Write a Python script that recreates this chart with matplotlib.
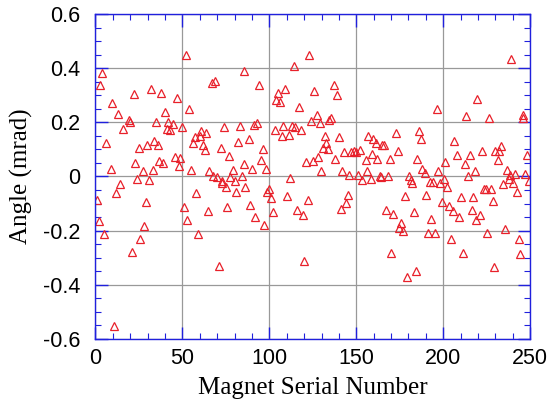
import matplotlib
matplotlib.use("Agg")
import matplotlib.pyplot as plt
from matplotlib.ticker import MultipleLocator, FuncFormatter

matplotlib.rcParams['axes.unicode_minus'] = False

# 磁铁编号
serial = [1.2, 1.9, 2.9, 3.9, 4.8, 6.0, 8.8, 9.8, 10.9, 11.9, 12.9, 14.0, 16.1, 19.2, 19.8,
          20.9, 22.1, 23.0, 24.0, 24.9, 25.9, 27.2, 28.0, 29.1, 29.9, 30.9, 31.8, 33.0, 33.9,
          34.9, 36.0, 36.6, 37.8, 38.9, 39.9, 41.0, 41.8, 43.0, 44.5, 45.8, 47.0, 47.9, 48.9,
          50.0, 51.0, 52.0, 52.9, 53.9, 55.0, 56.1, 57.3, 57.9, 58.9, 60.0, 60.7, 61.9, 63.0,
          63.8, 65.0, 65.5, 67.2, 67.8, 69.0, 69.8, 70.9, 72.0, 72.6, 73.0, 74.0, 74.9, 75.9,
          76.8, 77.6, 79.0, 80.2, 80.9, 82.0, 83.0, 84.5, 85.4, 85.6, 86.2, 88.2, 89.1, 90.1,
          91.2, 92.0, 93.1, 93.9, 95.1, 96.2, 97.0, 97.9, 98.9, 99.6, 101.1, 102.1, 103.1,
          104.0, 105.0, 106.1, 107.1, 108.0, 109.0, 110.0, 111.3, 112.1, 113.0, 114.0, 115.0,
          116.1, 117.1, 118.0, 119.2, 119.9, 121.1, 122.1, 122.8, 124.1, 125.0, 125.9, 127.2,
          128.2, 129.1, 129.7, 130.9, 132.0, 132.8, 133.9, 134.3, 135.5, 137.0, 137.8, 138.9,
          140.1, 141.2, 141.9, 142.8, 143.9, 145.0, 145.8, 147.0, 148.5, 149.7, 151.1, 152.0,
          153.1, 155.4, 156.0, 156.9, 158.3, 158.9, 159.8, 161.1, 161.9, 163.4, 164.2, 164.6,
          166.1, 166.9, 168.4, 169.2, 169.9, 171.1, 173.0, 174.1, 174.7, 175.9, 177.0, 178.2,
          179.3, 180.1, 181.3, 182.0, 183.2, 184.3, 185.0, 186.2, 187.0, 187.8, 189.3, 190.1,
          191.2, 192.4, 192.8, 194.3, 195.1, 196.2, 197.0, 198.1, 199.3, 200.6, 201.1, 202.3,
          203.1, 204.3, 205.4, 206.1, 208.0, 208.9, 210.3, 211.1, 212.3, 213.0, 214.2, 215.3,
          216.5, 217.1, 218.0, 218.8, 219.5, 221.1, 222.1, 223.4, 224.5, 225.3, 226.3, 227.2,
          228.4, 229.1, 229.9, 231.4, 232.2, 233.0, 234.1, 235.3, 236.8, 237.9, 238.3, 239.1,
          240.0, 241.4, 242.2, 243.3, 244.1, 245.6, 246.0, 247.1, 248.3, 249.1]

# 角度 (mrad)
angle = [-0.087, -0.164, 0.337, 0.382, -0.212, 0.124, 0.027, 0.271, -0.551, -0.062, 0.231,
         -0.028, 0.176, 0.209, 0.200, -0.280, 0.303, 0.051, -0.009, 0.105, -0.231, 0.019,
         -0.183, -0.095, 0.115, -0.014, 0.324, 0.023, 0.130, 0.200, 0.117, 0.056, 0.308,
         0.051, 0.238, 0.175, 0.200, 0.170, 0.195, 0.073, 0.289, 0.039, 0.068, 0.183, -0.112,
         0.450, -0.161, 0.250, 0.024, 0.124, 0.145, -0.060, -0.211, 0.148, 0.169, 0.117,
         0.099, 0.159, -0.129, 0.019, 0.344, 0.003, 0.351, -0.003, -0.332, 0.105, -0.025,
         -0.015, 0.183, -0.040, -0.113, 0.076, -0.003, 0.023, -0.015, -0.057, 0.127, 0.185,
         0.001, 0.046, 0.388, -0.038, 0.140, -0.104, 0.027, 0.189, -0.148, 0.198, 0.339,
         0.061, 0.101, -0.178, 0.027, -0.056, -0.046, -0.081, -0.130, 0.173, 0.284, 0.308,
         0.275, 0.149, 0.185, 0.324, -0.072, 0.154, -0.006, 0.185, 0.407, 0.183, -0.125,
         0.257, 0.172, -0.142, -0.311, 0.053, -0.087, 0.447, 0.206, 0.058, 0.315, 0.226,
         0.072, 0.198, 0.021, 0.105, 0.151, 0.124, 0.103, 0.210, 0.216, 0.339, 0.066, 0.300,
         0.145, -0.121, 0.019, 0.090, -0.099, -0.068, 0.007, 0.090, 0.095, 0.090, 0.007,
         0.099, -0.012, 0.062, 0.019, 0.151, -0.008, 0.084, 0.138, 0.124, 0.065, 0.001,
         -0.003, 0.115, 0.117, -0.125, 0.001, 0.065, -0.283, -0.137, 0.159, 0.095, -0.191,
         -0.173, -0.200, -0.072, -0.370, 0.001, -0.012, -0.025, -0.130, -0.350, 0.065, 0.167,
         0.138, 0.028, 0.013, -0.068, -0.210, -0.020, -0.158, -0.020, -0.210, 0.249, 0.021,
         -0.023, -0.093, -0.009, 0.053, -0.038, -0.109, -0.232, -0.126, 0.130, 0.080, -0.151,
         -0.075, -0.284, 0.047, 0.222, 0.001, 0.080, -0.124, -0.075, 0.021, -0.161, 0.287,
         -0.141, 0.095, -0.047, -0.047, -0.208, 0.216, -0.047, -0.089, -0.333, 0.095, 0.062,
         0.093, 0.114, -0.028, -0.195, 0.025, -0.010, 0.007, 0.434, -0.025, 0.010, -0.058,
         -0.232, -0.286, 0.226, 0.216, 0.010, 0.078, -0.015]

xticks = [0, 50, 100, 150, 200, 250]
yticks = [-0.6, -0.4, -0.2, 0, 0.2, 0.4, 0.6]

fig = plt.figure(figsize=(5.51, 4.04), dpi=100)
ax = fig.add_axes([0.173, 0.161, 0.7894, 0.8043])

# 空心红色三角
ax.plot(serial, angle, linestyle='none', marker='^', markersize=6,
        markerfacecolor='none', markeredgecolor='#e8202a', markeredgewidth=0.9)

ax.set_xlim(0, 250)
ax.set_ylim(-0.6, 0.6)
ax.set_xticks(xticks)
ax.set_yticks(yticks)
ax.xaxis.set_minor_locator(MultipleLocator(10))
ax.yaxis.set_minor_locator(MultipleLocator(0.05))
ax.yaxis.set_major_formatter(FuncFormatter(lambda v, p: '0' if abs(v) < 1e-9 else '%.1f' % v))

ax.grid(True, which='major', color='#999999', linewidth=0.9)
ax.set_axisbelow(True)

for s in ax.spines.values():
    s.set_color('#2020dd')
    s.set_linewidth(1.0)

ax.tick_params(which='both', direction='in', top=True, right=True, color='#2020dd')
ax.tick_params(which='major', length=9, width=1.0)
ax.tick_params(which='minor', length=4.5, width=0.8)
ax.tick_params(axis='y', which='major', pad=11)
ax.tick_params(axis='x', which='major', pad=6.5)
for lab in ax.get_xticklabels() + ax.get_yticklabels():
    lab.set_family('Liberation Sans')
    lab.set_fontsize(15.5)

ax.set_xlabel('Magnet Serial Number', family='Liberation Serif', fontsize=18, labelpad=6)
ax.set_ylabel('Angle (mrad)', family='Liberation Serif', fontsize=18, labelpad=7)

fig.savefig('out.png', dpi=100)
